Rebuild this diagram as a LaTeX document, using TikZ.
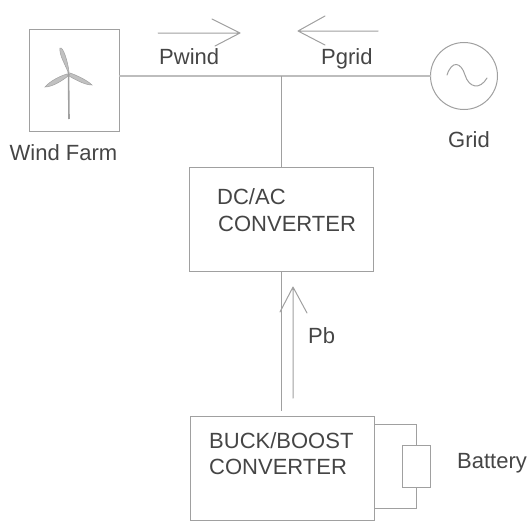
\documentclass[tikz,border=0pt]{standalone}
\usepackage{fontspec}
\setmainfont{Liberation Sans}
\definecolor{ln}{HTML}{A0A0A0}
\definecolor{tx}{HTML}{454545}
\tikzset{
 box/.style={draw=ln,line width=1pt,inner sep=0pt,outer sep=0pt},
 wire/.style={draw=ln,line width=1pt},
 bus/.style={draw=ln!70,line width=2pt},
 flow/.style={draw=ln,line width=1pt,line cap=round,line join=round},
 lab/.style={text=tx,font=\fontsize{22}{26}\selectfont,inner sep=0pt,anchor=base west},
 blade/.style={fill=ln!65,draw=ln,line width=.5pt}
}
\begin{document}
\begin{tikzpicture}[x=1pt,y=-1pt]
\useasboundingbox (0,0) rectangle (528,522);
\node[box,minimum width=90pt,minimum height=102pt] (wind) at (74,80) {};
\node[box,circle,minimum size=67pt] (grid) at (464,76) {};
\node[box,minimum width=184pt,minimum height=104pt] (dcac) at (281,219.5) {};
\node[box,minimum width=184pt,minimum height=104pt] (buck) at (282,468) {};
\node[box,minimum width=28pt,minimum height=42pt] (batt) at (416,466) {};
\coordinate (junction) at (281,76);
\coordinate (bucktop) at (281,411);
\coordinate (dcacbot) at (281,271.5);
\coordinate (stubtop) at (416,424);
\coordinate (stubbot) at (416,508);
\coordinate (bucka) at (374,424);
\coordinate (buckb) at (374,508);
% bus
\path[bus] (wind.east |- junction) -- (junction) -- (grid.west);
\path[wire] (junction) -- (dcac.north -| junction);
\path[wire] (dcacbot) -- (bucktop);
\path[wire] (bucka) -- (stubtop) -- (batt.north);
\path[wire] (buckb) -- (stubbot) -- (batt.south);
% flow arrows
\coordinate (pwa) at (158,33); \coordinate (pwb) at (240,33);
\coordinate (pwc) at (212,19); \coordinate (pwd) at (215,46);
\path[flow] (pwa) -- (pwb) (pwc) -- (pwb) -- (pwd);
\coordinate (pga) at (378,31); \coordinate (pgb) at (298,31);
\coordinate (pgc) at (325,16); \coordinate (pgd) at (325,45);
\path[flow] (pga) -- (pgb) (pgc) -- (pgb) -- (pgd);
\coordinate (pba) at (293,398); \coordinate (pbb) at (293,287);
\coordinate (pbc) at (280,312); \coordinate (pbd) at (307,313);
\path[flow] (pba) -- (pbb) (pbc) -- (pbb) -- (pbd);
% turbine
\draw[wire,line width=1.6pt] (68.5,72) -- (69,119);
\fill[blade] (68,72) .. controls (65,64) and (59,55) .. (60,48) .. controls (63,46) and (68,62) .. (69,72) -- cycle;
\fill[blade] (67,74) .. controls (60,76) and (50,81) .. (45,87) .. controls (52,87) and (62,81) .. (68,76) -- cycle;
\fill[blade] (70,73) .. controls (76,75) and (87,80) .. (92,85) .. controls (85,85) and (76,80) .. (69,76) -- cycle;
% sine
\draw[ln,line width=1pt,line cap=round] (447,75) .. controls (452,60) and (461,62) .. (465,75) .. controls (469,88) and (480,90) .. (487,78);
% labels
\node[lab] (tw) at (9.5,160) {Wind Farm};
\node[lab] (tpw) at (159,64) {Pwind};
\node[lab] (tpg) at (321,64) {Pgrid};
\node[lab] (tg) at (448,147.5) {Grid};
\node[lab] (t1) at (217,204) {DC/AC};
\node[lab] (t2) at (218,231.5) {CONVERTER};
\node[lab] (tpb) at (308,343.5) {Pb};
\node[lab] (t3) at (209,448) {BUCK/BOOST};
\node[lab] (t4) at (209,474) {CONVERTER};
\node[lab] (tb) at (457,468) {Battery};
\end{tikzpicture}
\end{document}
